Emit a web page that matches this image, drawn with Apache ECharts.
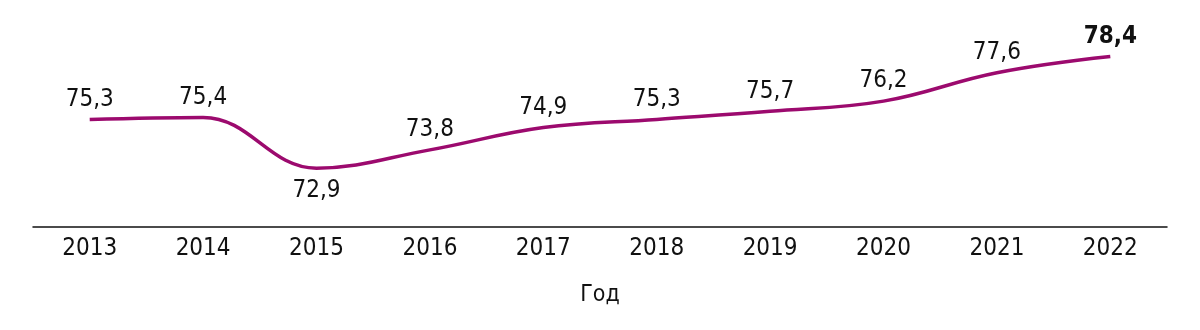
<!DOCTYPE html>
<html>
<head>
<meta charset="utf-8">
<script src="https://cdn.jsdelivr.net/npm/echarts@6/dist/echarts.min.js"></script>
<style>
  html, body { margin: 0; padding: 0; background: #fff; }
  #chart { width: 1200px; height: 330px; }
</style>
</head>
<body>
<div id="chart"></div>
<script>
// Years along the horizontal axis
const years = ['2013', '2014', '2015', '2016', '2017', '2018', '2019', '2020', '2021', '2022'];
// Values for each year
const values = [75.3, 75.4, 72.9, 73.8, 74.9, 75.3, 75.7, 76.2, 77.6, 78.4];
// Labels that sit below the line instead of above
const belowIdx = [2];

const FONT = '"DejaVu Sans Condensed", "Liberation Sans Narrow", "DejaVu Sans", sans-serif';
const LINE_COLOR = '#9c0a6e';
const fmt = v => v.toFixed(1).replace('.', ',');

const seriesData = values.map((v, i) => {
  const isLast = i === values.length - 1;
  const below = belowIdx.includes(i);
  return {
    value: v,
    label: {
      show: true,
      position: below ? 'bottom' : 'top',
      distance: below ? 10 : 7,
      fontWeight: isLast ? 'bold' : 'normal'
    }
  };
});

const chart = echarts.init(document.getElementById('chart'), null, { renderer: 'canvas' });
chart.setOption({
  animation: false,
  grid: { left: 33, right: 33, top: 24, bottom: 103 },
  xAxis: {
    type: 'category',
    data: years,
    boundaryGap: true,
    name: 'Год',
    nameLocation: 'middle',
    nameGap: 57,
    nameTextStyle: { fontFamily: FONT, fontSize: 23, color: '#111' },
    axisLine: { lineStyle: { color: '#111', width: 1.5 } },
    axisTick: { show: false },
    axisLabel: { fontFamily: FONT, fontSize: 24, color: '#111', margin: 10 }
  },
  yAxis: {
    type: 'value',
    min: 70,
    max: 80,
    show: false
  },
  series: [{
    type: 'line',
    data: seriesData,
    smooth: 0.4,
    symbol: 'circle',
    symbolSize: 2,
    showSymbol: true,
    showAllSymbol: true,
    itemStyle: { color: 'rgba(0,0,0,0)' },
    lineStyle: { color: LINE_COLOR, width: 3.5 },
    label: {
      show: true,
      formatter: p => fmt(p.value),
      fontFamily: FONT,
      fontSize: 24,
      color: '#111'
    }
  }]
});
</script>
</body>
</html>
